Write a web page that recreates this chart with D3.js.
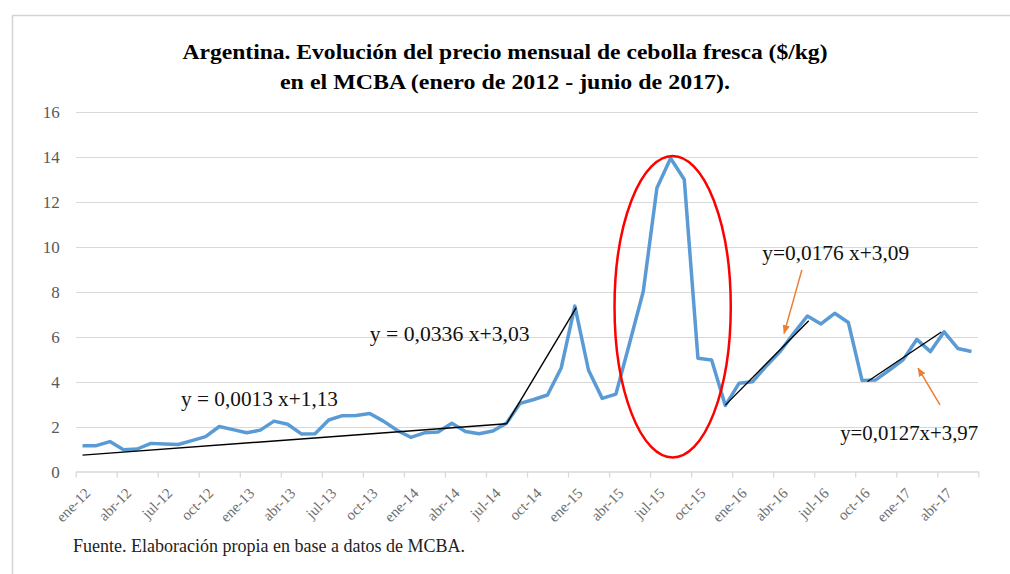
<!DOCTYPE html>
<meta charset="utf-8">
<style>
body { margin: 0; background: #fff; }
svg { font-family: "Liberation Serif", "Times New Roman", serif; }
.grid line { stroke: #d9d9d9; stroke-width: 1.3; shape-rendering: crispEdges; }
.axis text { font-family: "Liberation Serif", "Times New Roman", serif; }
.axis--y path, .axis--y line { display: none; }
.axis--y text { fill: #595959; font-size: 17px; }
.axis--x path { stroke: #d9d9d9; stroke-width: 1.3; }
.axis--x line { stroke: #d9d9d9; stroke-width: 1.3; }
.axis--x text { fill: #6e6e6e; font-size: 15px; }
.price { fill: none; stroke: #5b9bd5; stroke-width: 3.5; stroke-linejoin: round; }
.trend { stroke: #000; stroke-width: 1.4; }
.note { font-size: 20px; fill: #111; }
.title { font-size: 22px; font-weight: bold; fill: #000; }
</style>
<svg width="1010" height="574">
  <defs>
    <marker id="head" viewBox="0 0 10 10" refX="9" refY="5" markerWidth="6" markerHeight="6" orient="auto">
      <path d="M0,1 L10,5 L0,9 z" fill="#ed7d31"></path>
    </marker>
  </defs>
</svg>
<script src="https://d3js.org/d3.v7.min.js"></script>
<script>

// months ene-12 .. jun-17, price in $/kg
var months = [
  "ene-12","feb-12","mar-12","abr-12","may-12","jun-12","jul-12","ago-12","sep-12","oct-12","nov-12","dic-12",
  "ene-13","feb-13","mar-13","abr-13","may-13","jun-13","jul-13","ago-13","sep-13","oct-13","nov-13","dic-13",
  "ene-14","feb-14","mar-14","abr-14","may-14","jun-14","jul-14","ago-14","sep-14","oct-14","nov-14","dic-14",
  "ene-15","feb-15","mar-15","abr-15","may-15","jun-15","jul-15","ago-15","sep-15","oct-15","nov-15","dic-15",
  "ene-16","feb-16","mar-16","abr-16","may-16","jun-16","jul-16","ago-16","sep-16","oct-16","nov-16","dic-16",
  "ene-17","feb-17","mar-17","abr-17","may-17","jun-17"
];

var prices = [
  1.15, 1.15, 1.33, 0.97, 1.00, 1.25, 1.22, 1.20, 1.37, 1.55, 2.00, 1.86,
  1.72, 1.84, 2.24, 2.10, 1.67, 1.68, 2.29, 2.48, 2.49, 2.58, 2.24, 1.83,
  1.52, 1.72, 1.76, 2.14, 1.78, 1.68, 1.80, 2.15, 3.03, 3.20, 3.40, 4.60,
  7.35, 4.50, 3.25, 3.44, 5.70, 8.00, 12.60, 13.92, 12.98, 5.03, 4.96, 2.93,
  3.92, 3.99, 4.69, 5.33, 6.14, 6.91, 6.56, 7.03, 6.62, 4.05, 4.07, 4.51,
  4.96, 5.87, 5.33, 6.21, 5.47, 5.33
];

var tickLabels = ["ene-12","abr-12","jul-12","oct-12","ene-13","abr-13","jul-13","oct-13",
  "ene-14","abr-14","jul-14","oct-14","ene-15","abr-15","jul-15","oct-15",
  "ene-16","abr-16","jul-16","oct-16","ene-17","abr-17"];

var yTicks = [0, 2, 4, 6, 8, 10, 12, 14, 16];

// trend segments: month index and value at each end
var trendFrom = [[0, 0.73], [31, 2.12], [47, 2.95], [57.4, 4.0]];
var trendTo   = [[31, 2.12], [36.1, 7.28], [53.1, 6.7], [62.8, 6.2]];

var equations = ["y = 0,0013 x+1,13", "y = 0,0336 x+3,03", "y=0,0176 x+3,09", "y=0,0127x+3,97"];
var eqAt      = [[7.2, 2.91], [21.0, 5.78], [49.7, 9.42], [55.4, 1.4]];
var eqWidth   = [157, 160, 147, 138];

var arrowFrom = [[52.6, 8.96], [62.7, 2.96]];
var arrowTo   = [[51.3, 6.14], [61.1, 4.59]];

var svg = d3.select("svg");

svg.append("rect")
    .attr("x", 12.5).attr("y", 15.5)
    .attr("width", 1020).attr("height", 600)
    .attr("fill", "#fff")
    .attr("stroke", "#d4d4d4")
    .attr("stroke-width", 1.5);

var x = d3.scaleLinear()
    .domain([-0.5, months.length - 0.5])
    .range([75.7, 978.3]);

var y = d3.scaleLinear()
    .domain([0, 16])
    .range([471.5, 111.5]);

svg.append("g")
    .attr("class", "grid")
  .selectAll("line")
  .data(yTicks.slice(1))
  .enter().append("line")
    .attr("x1", x.range()[0])
    .attr("x2", x.range()[1])
    .attr("y1", function(d) { return Math.round(y(d)) + 0.5; })
    .attr("y2", function(d) { return Math.round(y(d)) + 0.5; });

svg.append("g")
    .attr("class", "axis axis--y")
    .attr("transform", "translate(" + (x.range()[0] - 14) + ",0)")
    .call(d3.axisLeft(y).tickValues(yTicks).tickSize(0).tickPadding(2))
    .selectAll("text").attr("dy", "0.35em");

var tickIdx = tickLabels.map(function(d) { return months.indexOf(d); });

var xAxis = svg.append("g")
    .attr("class", "axis axis--x")
    .attr("transform", "translate(0," + y(0) + ")")
    .call(d3.axisBottom(x)
      .tickValues(tickIdx.map(function(i) { return i - 0.5; }).concat([months.length - 0.5]))
      .tickSize(6)
      .tickSizeOuter(0)
      .tickFormat(""));

xAxis.selectAll(".month")
    .data(tickIdx)
  .enter().append("text")
    .attr("class", "month")
    .attr("text-anchor", "end")
    .attr("transform", function(i) { return "translate(" + (x(i) + 5) + ",19) rotate(-45)"; })
    .attr("dy", "0.35em")
    .text(function(i) { return months[i]; });

var line = d3.line()
    .x(function(d, i) { return x(i); })
    .y(function(d) { return y(d); });

svg.append("path")
    .datum(prices)
    .attr("class", "price")
    .attr("d", line);

svg.selectAll(".trend")
    .data(trendFrom)
  .enter().append("line")
    .attr("class", "trend")
    .attr("x1", function(d) { return x(d[0]); })
    .attr("y1", function(d) { return y(d[1]); })
    .attr("x2", function(d, i) { return x(trendTo[i][0]); })
    .attr("y2", function(d, i) { return y(trendTo[i][1]); });

// outlier ring round the 2015 spike
svg.append("ellipse")
    .attr("cx", x(43.15)).attr("cy", y(7.32))
    .attr("rx", x(4.25) - x(0)).attr("ry", y(0) - y(6.7))
    .attr("fill", "none")
    .attr("stroke", "#ff0000")
    .attr("stroke-width", 2.5);

svg.selectAll(".arrow")
    .data(arrowFrom)
  .enter().append("line")
    .attr("class", "arrow")
    .attr("x1", function(d) { return x(d[0]); })
    .attr("y1", function(d) { return y(d[1]); })
    .attr("x2", function(d, i) { return x(arrowTo[i][0]); })
    .attr("y2", function(d, i) { return y(arrowTo[i][1]); })
    .attr("stroke", "#ed7d31")
    .attr("stroke-width", 1.5)
    .attr("marker-end", "url(#head)");

svg.selectAll(".note")
    .data(equations)
  .enter().append("text")
    .attr("class", "note")
    .attr("x", function(d, i) { return x(eqAt[i][0]); })
    .attr("y", function(d, i) { return y(eqAt[i][1]); })
    .attr("textLength", function(d, i) { return eqWidth[i]; })
    .attr("lengthAdjust", "spacingAndGlyphs")
    .text(function(d) { return d; });

svg.append("text")
    .attr("class", "title")
    .attr("x", 505).attr("y", 59)
    .attr("text-anchor", "middle")
    .attr("textLength", 645)
    .attr("lengthAdjust", "spacingAndGlyphs")
    .text("Argentina. Evolución del precio mensual de cebolla fresca ($/kg)");

svg.append("text")
    .attr("class", "title")
    .attr("x", 505).attr("y", 89)
    .attr("text-anchor", "middle")
    .attr("textLength", 450)
    .attr("lengthAdjust", "spacingAndGlyphs")
    .text("en el MCBA  (enero de 2012 - junio de 2017).");

svg.append("text")
    .attr("x", 73).attr("y", 552)
    .attr("font-size", 18)
    .attr("fill", "#222")
    .text("Fuente. Elaboración propia en base a datos de MCBA.");

</script>
